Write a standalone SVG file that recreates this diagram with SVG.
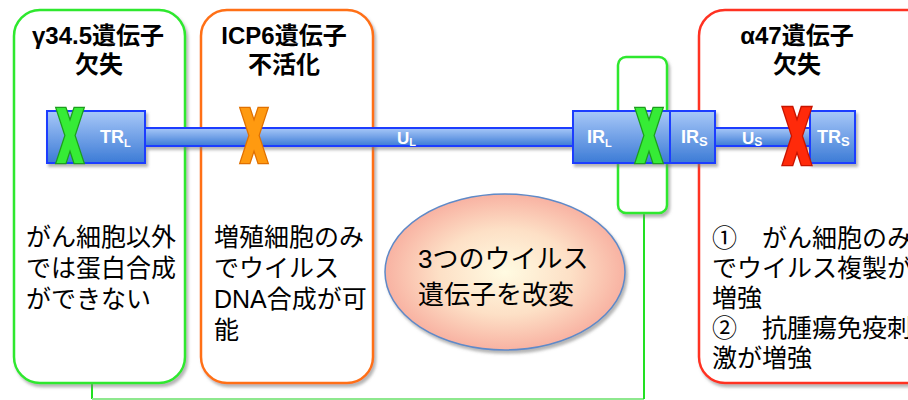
<svg xmlns="http://www.w3.org/2000/svg" xmlns:xlink="http://www.w3.org/1999/xlink" width="908" height="400" viewBox="0 0 908 400">
<style>
.t{font-family:"Liberation Sans","Noto Sans CJK JP",sans-serif;fill:#000}
.title{font-size:24px;font-weight:bold;text-anchor:middle}
.body{font-size:25px}
.ell{font-size:26px}
.gl{font-family:"Liberation Sans","Noto Sans CJK JP",sans-serif;fill:#fff;font-weight:bold;font-size:18px}
.gs{font-family:"Liberation Sans","Noto Sans CJK JP",sans-serif;fill:#fff;font-weight:bold;font-size:17px}
.box{fill:#fff;stroke-width:2.5}
.seg{fill:url(#segG);stroke:#1b3cff;stroke-width:2}
</style>
<defs>
<filter id="sh" x="-10%" y="-10%" width="130%" height="130%">
<feDropShadow dx="2" dy="3" stdDeviation="1.5" flood-color="#777" flood-opacity="0.55"/>
</filter>
<linearGradient id="segG" x1="0" y1="0" x2="0" y2="1">
<stop offset="0" stop-color="#a8c8f8"/>
<stop offset="1" stop-color="#3c7bd6"/>
</linearGradient>
<radialGradient id="ellG" cx="0.5" cy="0.5" r="0.5">
<stop offset="0" stop-color="#fffbe2"/>
<stop offset="0.55" stop-color="#fde0c6"/>
<stop offset="1" stop-color="#f8b2a2"/>
</radialGradient>
<path id="xp" d="M-13.5,-27.5 L-4.5,-27.5 L13.5,27.5 L4.5,27.5 Z M4.5,-27.5 L13.5,-27.5 L-4.5,27.5 L-13.5,27.5 Z"/>
</defs>
<rect width="908" height="400" fill="#fff"/>

<g id="connectors" fill="none">
<polyline points="92,383 92,399" stroke="#22e022" stroke-width="2"/>
<polyline points="92,399 644,399" stroke="#8ee88e" stroke-width="2"/>
<polyline points="644,399 644,213" stroke="#22e022" stroke-width="2"/>
</g>

<g id="node-g345">
<rect class="box" x="14" y="10" width="171" height="373" rx="26" stroke="#2ee82e" filter="url(#sh)"/>
<text class="t title" x="98" y="44">γ34.5遺伝子</text>
<text class="t title" x="99" y="73">欠失</text>
<text class="t body" x="26" y="246">がん細胞以外</text>
<text class="t body" x="26" y="277">では蛋白合成</text>
<text class="t body" x="26" y="308">ができない</text>
</g>

<g id="node-icp6">
<rect class="box" x="201" y="10" width="172" height="373" rx="26" stroke="#ff7018" filter="url(#sh)"/>
<text class="t title" x="284" y="44">ICP6遺伝子</text>
<text class="t title" x="284" y="73">不活化</text>
<text class="t body" x="214" y="246">増殖細胞のみ</text>
<text class="t body" x="214" y="277">でウイルス</text>
<text class="t body" x="214" y="308">DNA合成が可</text>
<text class="t body" x="214" y="339">能</text>
</g>

<g id="node-a47">
<rect class="box" x="699" y="10" width="240" height="373" rx="26" stroke="#ff3020" filter="url(#sh)"/>
<text class="t title" x="797" y="44">α47遺伝子</text>
<text class="t title" x="797" y="73">欠失</text>
<text class="t body" x="712" y="247">①　がん細胞のみ</text>
<text class="t body" x="712" y="277">でウイルス複製が</text>
<text class="t body" x="712" y="307">増強</text>
<text class="t body" x="712" y="337">②　抗腫瘍免疫刺</text>
<text class="t body" x="712" y="367">激が増強</text>
</g>

<g id="node-ir">
<rect x="618" y="57" width="49" height="156" rx="8" fill="#fff" stroke="#2ee82e" stroke-width="2.5" filter="url(#sh)"/>
</g>

<g id="node-center">
<ellipse cx="505" cy="272" rx="120" ry="78" fill="url(#ellG)" stroke="#5f8ac8" stroke-width="1.5" filter="url(#sh)"/>
<text class="t ell" x="418" y="268">3つのウイルス</text>
<text class="t ell" x="418" y="304">遺伝子を改変</text>
</g>

<g id="node-genome">
<g filter="url(#sh)">
<rect class="seg" x="145" y="128" width="428" height="18"/>
<rect class="seg" x="715" y="128" width="95" height="18"/>
<rect class="seg" x="47" y="111" width="98" height="52"/>
<rect class="seg" x="573" y="111" width="97" height="52"/>
<rect class="seg" x="670" y="111" width="45" height="52"/>
<rect class="seg" x="810" y="111" width="45" height="52"/>
</g>
<text class="gl" x="100" y="143">TR<tspan font-size="11" dy="4">L</tspan></text>
<text class="gs" x="397" y="144">U<tspan font-size="11" dy="2">L</tspan></text>
<text class="gl" x="587" y="143">IR<tspan font-size="11" dy="4">L</tspan></text>
<text class="gl" x="681" y="143">IR<tspan font-size="13" dy="3">S</tspan></text>
<text class="gs" x="742" y="144">U<tspan font-size="12" dy="2">S</tspan></text>
<text class="gl" x="817" y="143">TR<tspan font-size="13" dy="3">S</tspan></text>
</g>

<g id="marks">
<g transform="translate(70,135.5)"><use xlink:href="#xp" fill="none" stroke="#1c9e1c" stroke-width="2.5"/><use xlink:href="#xp" fill="#36ec36"/></g>
<g transform="translate(254,135.5)"><use xlink:href="#xp" fill="none" stroke="#e07000" stroke-width="2.5"/><use xlink:href="#xp" fill="#ff9a10"/></g>
<g transform="translate(649,135.5)"><use xlink:href="#xp" fill="none" stroke="#1c9e1c" stroke-width="2.5"/><use xlink:href="#xp" fill="#36ec36"/></g>
<g transform="translate(797,136) scale(1.05)"><use xlink:href="#xp" fill="none" stroke="#c81400" stroke-width="2.5"/><use xlink:href="#xp" fill="#ff2a0a"/></g>
</g>
</svg>
